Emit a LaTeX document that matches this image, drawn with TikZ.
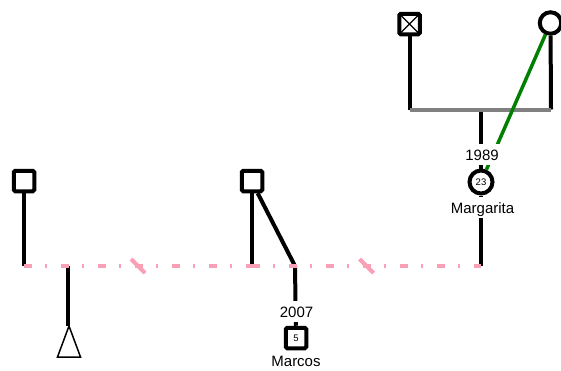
\documentclass[tikz,border=0pt]{standalone}
\usepackage{fontspec}
\setmainfont{Liberation Sans}
\usetikzlibrary{calc}
\definecolor{relpink}{RGB}{250,160,182}
\definecolor{sibgray}{RGB}{128,128,128}
\definecolor{linkgreen}{RGB}{0,128,0}

\begin{document}
\begin{tikzpicture}[x=1pt,y=-1pt,
    male/.style={draw,line width=4pt,rounded corners=1.5pt,minimum size=20.5pt,inner sep=0pt,fill=white,font=\fontsize{9.5}{10}\selectfont},
    female/.style={draw,circle,line width=4pt,minimum size=23pt,inner sep=0pt,fill=white,font=\fontsize{9.5}{10}\selectfont},
    dead/.style={path picture={\draw[line width=1.2pt] (path picture bounding box.north west) -- (path picture bounding box.south east) (path picture bounding box.south west) -- (path picture bounding box.north east);}},
    link/.style={line width=4pt},
    relline/.style={line width=4pt,relpink,dash pattern=on 8pt off 13pt on 2pt off 14pt},
    sepmark/.style={line width=4pt,relpink},
    tag/.style={fill=white,anchor=base,inner sep=2.5pt,text height=14pt,text depth=2pt,font=\fontsize{15}{18}\selectfont}]
    \useasboundingbox (0,0) rectangle (561,370);

    % Grandparents
    \node[male,dead] (gf) at (409.5,24) {};
    \node[female,minimum size=21.5pt] (gm) at (550.5,23) {};

    % Persons
    \node[male] (p1) at (24,181) {};
    \node[male] (p2) at (252,181) {};
    \node[female] (m) at (481,182) {23};
    \node[male] (k) at (296,338) {5};

    % Junctions
    \coordinate (gl) at (409.5,109.5);
    \coordinate (gr) at (551,109.5);
    \coordinate (gc) at (481,109.5);
    \coordinate (jl) at (24,266);
    \coordinate (jm) at (252,266);
    \coordinate (jr) at (481,266);
    \coordinate (jt) at (67.5,266);
    \coordinate (jk) at (295,266);
    \coordinate (ta) at (69,326);

    % Parents and child
    \draw[link] (gf) -- (gl);
    \draw[link] (gm) -- (gr);
    \draw[link] (gc) -- (m);
    \draw[line width=4pt,sibgray] (gl) -- (gr);
    \draw[link,linkgreen,line width=3.5pt] (m) -- (gm);

    % Lower family
    \draw[link] (p1) -- (jl);
    \draw[link] (p2) -- (jm);
    \draw[link] (p2.-65) -- (jk);
    \draw[link] (jk) -- (k);
    \draw[link] (m) -- (jr);
    \draw[link] (jt) -- (jt |- ta);
    \draw[line width=1.5pt] (ta) -- ++(-11.5,31) -- ++(23,0) -- cycle;

    % Relationship lines
    \foreach \a/\b in {jl/jm, jm/jr}{
        \draw[relline] (\a) -- coordinate[midway] (s) (\b);
        \draw[sepmark] (s) ++(-7,-7) -- ++(14,14);
    }

    % Labels
    \node[tag] (yb) at (482,160.5) {1989};
    \node[tag] (nm) at (482.5,213) {Margarita};
    \node[tag] (yk) at (296.5,317) {2007};
    \node[anchor=base,inner sep=0pt,font=\fontsize{15}{18}\selectfont] (nk) at (296,366.5) {Marcos};
\end{tikzpicture}
\end{document}
